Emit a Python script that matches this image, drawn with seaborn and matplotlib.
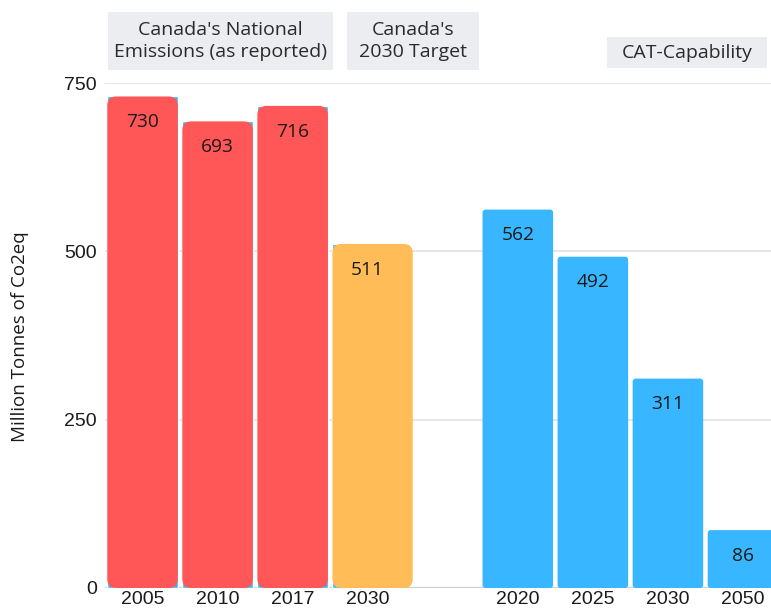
import matplotlib
matplotlib.use("Agg")
import matplotlib.pyplot as plt
import seaborn as sns
import pandas as pd
import numpy as np
from matplotlib.patches import FancyBboxPatch, Rectangle

# ---- data ----
slot_keys = ["n2005", "n2010", "n2017", "t2030", "gap", "c2020", "c2025", "c2030", "c2050"]
tick_labels = ["2005", "2010", "2017", "2030", "", "2020", "2025", "2030", "2050"]
bar_keys = ["n2005", "n2010", "n2017", "t2030", "c2020", "c2025", "c2030", "c2050"]
bar_values = [730, 693, 716, 511, 562, 492, 311, 86]
bar_groups = ["national", "national", "national", "target", "cat", "cat", "cat", "cat"]
group_titles = ["Canada's National\nEmissions (as reported)", "Canada's\n2030 Target", "CAT-Capability"]
y_ticks = [0, 250, 500, 750]
y_label = "Million Tonnes of Co2eq"

RED = "#FF5757"
ORANGE = "#FFBC57"
BLUE = "#38B6FF"
colors = {"national": RED, "target": ORANGE, "cat": BLUE}

df = pd.DataFrame({"key": bar_keys, "value": bar_values, "group": bar_groups})

sns.set_theme(style="white")
plt.rcParams["font.family"] = ["Liberation Sans", "DejaVu Sans"]

W, H = 771, 609
fig = plt.figure(figsize=(W / 100, H / 100), dpi=100)
ax = fig.add_axes([105 / W, (H - 588) / H, (W - 105) / W, (588 - 83) / H])

sns.barplot(data=df, x="key", y="value", order=slot_keys, color=BLUE,
            saturation=1, width=0.94, ax=ax, zorder=2)

ax.set_xlim(-0.5, (W - 143) / 75.0)
ax.set_ylim(0, 750)

# px per data unit
px_x = 75.0
px_y = 505 / 750.0

val_map = dict(zip(bar_keys, bar_values))
grp_map = dict(zip(bar_keys, bar_groups))

for p in list(ax.patches):
    cx = p.get_x() + p.get_width() / 2
    idx = int(round(cx))
    key = slot_keys[idx]
    if key not in grp_map:
        continue
    g = grp_map[key]
    x0, w, h = p.get_x(), p.get_width(), p.get_height()
    if g == "cat":
        p.set_visible(False)
        r = 3 / px_x
        fb = FancyBboxPatch((x0, 0), w, h,
                            boxstyle=f"round,pad=0,rounding_size={r}",
                            mutation_aspect=(1 / px_y) / (1 / px_x),
                            fc=BLUE, ec="none", zorder=2)
        ax.add_patch(fb)
    else:
        p.set_zorder(2)
        extra = 0.13 if g == "target" else 0.0
        r = 9 / px_x
        fb = FancyBboxPatch((x0, 0), w + extra, h,
                            boxstyle=f"round,pad=0,rounding_size={r}",
                            mutation_aspect=(1 / px_y) / (1 / px_x),
                            fc=colors[g], ec="none", zorder=3)
        ax.add_patch(fb)
    ax.annotate(f"{val_map[key]}", (cx, h), xytext=(0, -18.5), textcoords="offset points",
                ha="center", va="center", fontsize=13.8, color="#1a1a1a",
                family=["Open Sans", "DejaVu Sans"], zorder=5)

# grid
for yv in y_ticks[1:]:
    ax.axhline(yv, color="#E2E2E2", lw=1.2, zorder=1)
ax.axhline(0, color="#D0D0D0", lw=1.6, zorder=1)

for s in ax.spines.values():
    s.set_visible(False)
ax.set_yticks(y_ticks)
ax.set_yticklabels([str(v) for v in y_ticks])
ax.set_xticks(range(len(slot_keys)))
ax.set_xticklabels(tick_labels)
ax.tick_params(axis="both", length=0, labelsize=14, colors="#1a1a1a")
ax.tick_params(axis="x", pad=2)
ax.tick_params(axis="y", pad=6)
ax.set_xlabel("")
ax.set_ylabel(y_label, fontsize=13.5, color="#1a1a1a", family=["Open Sans", "DejaVu Sans"])
ax.yaxis.set_label_coords((29 - 105) / (W - 105), (588 - 337) / 505)

# group header boxes (pixel coords)
boxes = [(108, 12, 333, 70), (347, 12, 479, 70), (607, 37, 767, 68)]
for (l, t, r, b), title in zip(boxes, group_titles):
    fig.patches.append(Rectangle((l / W, (H - b) / H), (r - l) / W, (b - t) / H,
                                 transform=fig.transFigure, fc="#ECEDF1", ec="none"))
    fig.text((l + r) / 2 / W, (H - (t + b) / 2) / H, title, ha="center", va="center",
             fontsize=14, color="#2a2a2a", linespacing=1.35,
             family=["Open Sans", "DejaVu Sans"])

fig.savefig("out.png", dpi=100)
